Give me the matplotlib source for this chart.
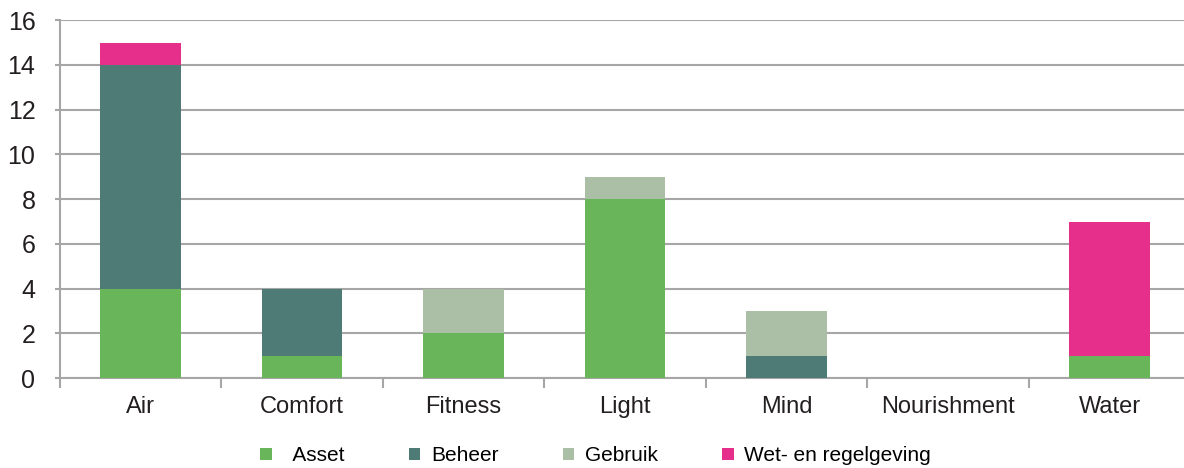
import matplotlib.pyplot as plt
import numpy as np

plt.rcParams['font.family'] = ['Liberation Sans', 'DejaVu Sans']

categories = ['Air', 'Comfort', 'Fitness', 'Light', 'Mind', 'Nourishment', 'Water']
asset = [4, 1, 2, 8, 0, 0, 1]
beheer = [10, 3, 0, 0, 1, 0, 0]
gebruik = [0, 0, 2, 1, 2, 0, 0]
wet = [1, 0, 0, 0, 0, 0, 6]

series = [('  Asset', asset, '#69B55A'),
          ('Beheer', beheer, '#4E7B76'),
          ('Gebruik', gebruik, '#AABFA6'),
          ('Wet- en regelgeving', wet, '#E62E8B')]

fig = plt.figure(figsize=(11.84, 4.68), dpi=100)
# axes run a little past the right edge of the figure, as in the original
ax = fig.add_axes([0.0505, 0.192, 0.9548, 0.765])

x = np.arange(len(categories))
bottom = np.zeros(len(categories))
for name, vals, col in series:
    ax.bar(x, vals, 0.5, bottom=bottom, color=col, label=name, zorder=3)
    bottom += np.array(vals)

ax.set_xlim(-0.5, len(categories) - 0.5)
ax.set_ylim(0, 16)
ax.set_yticks(range(0, 17, 2))
ax.yaxis.grid(True, color='#A6A6A6', linewidth=1.5, zorder=0)

for s in ['top', 'right']:
    ax.spines[s].set_visible(False)
for s in ['left', 'bottom']:
    ax.spines[s].set_color('#A6A6A6')
    ax.spines[s].set_linewidth(1.5)

ax.set_xticks(x)
ax.set_xticklabels(categories, fontsize=17, color='#231F20')
ax.set_xticks(np.arange(-0.5, len(categories)), minor=True)
ax.tick_params(axis='x', which='major', length=0, pad=13)
ax.tick_params(axis='x', which='minor', length=7, width=1.5, color='#A6A6A6')
ax.tick_params(axis='y', length=3.5, width=1.5, color='#A6A6A6', labelsize=18,
               labelcolor='#231F20', pad=14)

fig.legend(loc='center', bbox_to_anchor=(0.503, 0.026), ncol=4, frameon=False,
           fontsize=15, handlelength=0.55, handleheight=0.55, handletextpad=0.5,
           columnspacing=3.1, borderpad=0, borderaxespad=0)

fig.savefig('out.png', dpi=100)
